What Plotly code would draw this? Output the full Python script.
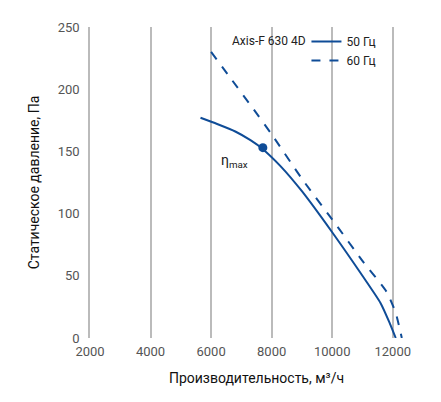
import plotly.graph_objects as go

x50 = [5650, 6200, 6800, 7300, 7700, 8300, 9000, 10000, 11000, 11600, 11900, 12100]
y50 = [177, 172, 166, 159, 152, 138, 118, 85, 50, 28, 12, 0]
x60 = [6000, 6700, 7400, 8050, 9000, 10100, 11000, 11800, 12100, 12300]
y60 = [230, 207, 184, 162, 128, 92, 62, 37, 20, 0]
xmax = [7710]
ymax = [153]
xticks = [2000, 4000, 6000, 8000, 10000, 12000]
xticklabels = ["2000", "4000", "6000", "8000", "10000", "12000"]
yticks = [0, 50, 100, 150, 200, 250]

blue = "#0f4c97"
fig = go.Figure()
fig.add_trace(go.Scatter(x=x50, y=y50, mode="lines", name="50 Гц", line=dict(color=blue, width=2, shape="spline", smoothing=0.6)))
fig.add_trace(go.Scatter(x=x60, y=y60, mode="lines", name="60 Гц", line=dict(color=blue, width=2, dash="dash", shape="spline", smoothing=0.6)))
fig.add_trace(go.Scatter(x=xmax, y=ymax, mode="markers", showlegend=False, marker=dict(color=blue, size=9)))
fig.add_annotation(x=xmax[0], y=ymax[0], text="η<sub>max</sub>", showarrow=False, xshift=-28, yshift=-13,
                   font=dict(size=14, color="#222"))
fig.add_annotation(x=0.655, y=0.985, xref="paper", yref="paper", text="Axis-F 630 4D", showarrow=False,
                   xanchor="right", yanchor="top", font=dict(size=12, color="#222"))
fig.update_layout(
    width=441, height=402, margin=dict(l=82, r=26, t=12, b=72),
    plot_bgcolor="white", paper_bgcolor="white",
    font=dict(family="Roboto", size=13, color="#555"),
    showlegend=True,
    legend=dict(x=0.65, y=1.0, xanchor="left", yanchor="top", bgcolor="rgba(0,0,0,0)",
                font=dict(size=12, color="#222"), tracegroupgap=0, itemwidth=30),
)
fig.update_xaxes(range=[2000, 13000], tickvals=xticks, ticktext=xticklabels, showgrid=True, gridcolor="#bbbbbb", gridwidth=1.5,
                 zeroline=False, showline=False, ticks="", ticklabelstandoff=4,
                 title=dict(text="Производительность, м³/ч", font=dict(size=14, color="#111")))
fig.update_yaxes(range=[0, 250], tickvals=yticks, showgrid=False, zeroline=False,
                 showline=True, linecolor="#bbbbbb", linewidth=1.5, ticks="", ticklabelstandoff=6,
                 title=dict(text="Статическое давление, Па", font=dict(size=14, color="#111")))
fig.write_html("out.html")
